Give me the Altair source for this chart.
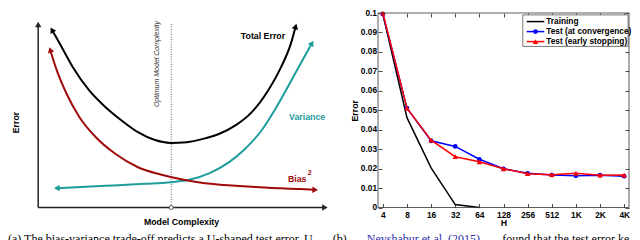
import altair as alt
import numpy as np
import pandas as pd

FONT = "Liberation Sans"

# ---------------- Left panel: conceptual bias-variance curves ----------------
# (model complexity, error) in arbitrary units
total_c = [0.48, 0.76, 1.21, 1.78, 2.35, 2.91, 3.48, 4.05, 4.62, 5.18, 5.75, 6.32, 6.88, 7.45, 8.02, 8.47, 8.81, 8.98]
total_e = [9.76, 8.99, 7.71, 6.43, 5.51, 4.78, 4.14, 3.72, 3.55, 3.59, 3.77, 4.05, 4.51, 5.24, 6.43, 7.71, 8.99, 9.95]
bias_c = [0.42, 0.65, 0.99, 1.44, 2.01, 2.69, 3.48, 4.27, 5.07, 5.75, 6.88, 8.02, 9.15, 9.66]
bias_e = [8.66, 7.53, 6.25, 4.96, 3.86, 2.95, 2.21, 1.81, 1.52, 1.34, 1.19, 1.08, 1.01, 0.97]
var_c = [0.65, 2.35, 3.71, 4.62, 5.30, 5.98, 6.66, 7.22, 7.79, 8.24, 8.70, 9.15, 9.55]
var_e = [1.06, 1.19, 1.30, 1.39, 1.54, 1.89, 2.49, 3.23, 4.23, 5.33, 6.61, 7.90, 9.03]
axis_x_end = 10.0
axis_y_end = 10.05
optimum_c = 4.64
optimum_top = 10.1

caption_a = "(a) The bias-variance trade-off predicts a U-shaped test error. Under"
caption_b1 = "(b)"
caption_b2 = "Neyshabur et al. (2015)"
caption_b3 = "found that the test error keeps"

# ---------------- Right panel: error vs hidden units ----------------
H_labels = ["4", "8", "16", "32", "64", "128", "256", "512", "1K", "2K", "4K"]
training = [0.0995, 0.0462, 0.0204, 0.0015, 0.0]
test_conv = [0.0995, 0.0511, 0.0343, 0.0314, 0.0248, 0.0199, 0.0176, 0.0167, 0.0163, 0.0166, 0.0161]
test_early = [0.1, 0.0511, 0.0346, 0.0261, 0.0235, 0.0199, 0.0174, 0.0169, 0.0176, 0.0166, 0.0167]
series = ["Training", "Test (at convergence)", "Test (early stopping)"]
y_ticks = [round(0.01 * i, 2) for i in range(11)]

BLACK, BLUE, RED = "#000000", "#0000ff", "#ff0000"
DRED, TEAL = "#9e0b0b", "#1f9c9c"
CITE = "#2b2bb0"

# ---------------- layout ----------------
W1, H1 = 370, 227.5        # left panel view (caption strip at its bottom, clipped)
W2, H2 = 251, 227.5        # right panel view
PLOT2 = 194.5              # height of the right plot frame inside its view
CAP_Y = 230.1              # caption baseline (clipped at the view bottom)

XMIN, XMAX = -1.053, 11.852
YMIN, YMAX = -1.813, 10.687
PXC = W1 / (XMAX - XMIN)
PXE = H1 / (YMAX - YMIN)

xs = alt.Scale(domain=[XMIN, XMAX], nice=False, zero=False)
ys = alt.Scale(domain=[YMIN, YMAX], nice=False, zero=False)


def heading(c0, e0, c1, e1):
    dx = (c0 - c1) * PXC
    dy = -(e0 - e1) * PXE
    return float(np.degrees(np.arctan2(dx, -dy)) % 360)


def XY():
    return dict(x=alt.X("c:Q", scale=xs, axis=None), y=alt.Y("e:Q", scale=ys, axis=None))


def curve(cs, es, color):
    df = pd.DataFrame({"c": cs, "e": es})
    return alt.Chart(df).mark_line(interpolate="monotone", strokeWidth=2, color=color).encode(**XY())


heads = []
for cs, es, col in [(total_c, total_e, BLACK), (bias_c, bias_e, DRED), (var_c, var_e, TEAL)]:
    heads.append(dict(c=cs[0], e=es[0], a=heading(cs[0], es[0], cs[1], es[1]), col=col, s=42))
    heads.append(dict(c=cs[-1], e=es[-1], a=heading(cs[-1], es[-1], cs[-2], es[-2]), col=col, s=42))
heads.append(dict(c=0, e=axis_y_end, a=0.0, col="#222222", s=40))
heads.append(dict(c=axis_x_end, e=0, a=90.0, col="#222222", s=40))
heads_df = pd.DataFrame(heads)

axes_df = pd.DataFrame({"c": [0, 0, 0, axis_x_end], "e": [axis_y_end, 0, 0, 0], "seg": ["y", "y", "x", "x"]})
axes_lines = alt.Chart(axes_df).mark_line(color="#222222", strokeWidth=1.5).encode(detail="seg:N", **XY())

opt_df = pd.DataFrame({"c": [optimum_c, optimum_c], "e": [0, optimum_top]})
opt_line = alt.Chart(opt_df).mark_line(color="#555555", strokeWidth=0.9, strokeDash=[1, 1.5]).encode(**XY())
opt_dot = alt.Chart(pd.DataFrame({"c": [optimum_c], "e": [0]})).mark_point(
    shape="circle", filled=True, fill="white", stroke="#333333", strokeWidth=0.8, size=16, opacity=1
).encode(**XY())

head_marks = alt.Chart(heads_df).mark_point(shape="triangle-up", filled=True, opacity=1).encode(
    angle=alt.Angle("a:Q", scale=None),
    color=alt.Color("col:N", scale=None),
    size=alt.Size("s:Q", scale=None),
    **XY(),
)


def label(text, c, e, color="#000000", size=8.8, weight="bold", angle=0, align="center", style="normal"):
    df = pd.DataFrame({"c": [c], "e": [e], "t": [text]})
    kw = dict(font=FONT, fontSize=size, fontWeight=weight, color=color, align=align,
              baseline="middle", fontStyle=style)
    if angle:
        kw["angle"] = angle
    return alt.Chart(df).mark_text(**kw).encode(text="t:N", **XY())


def cap(text, x, color="#000000", limit=0):
    kw = dict(font="Liberation Serif", fontSize=12, align="left", baseline="alphabetic", color=color, clip=True)
    if limit:
        kw["limit"] = limit
        kw["ellipsis"] = ""
    return alt.Chart(pd.DataFrame({"t": [text]})).mark_text(**kw).encode(
        text="t:N", x=alt.value(x), y=alt.value(CAP_Y))


left = alt.layer(
    axes_lines,
    opt_line,
    opt_dot,
    curve(var_c, var_e, TEAL),
    curve(bias_c, bias_e, DRED),
    curve(total_c, total_e, BLACK),
    head_marks,
    label("Total Error", 7.84, 9.40),
    label("Variance", 9.38, 5.0, color=TEAL),
    label("Bias", 8.71, 1.59, color=DRED, align="left"),
    label("2", 9.40, 1.90, color=DRED, size=7, align="left"),
    label("Model Complexity", 5.0, -0.77),
    label("Error", -0.78, 4.67, angle=270),
    label("Optimum Model Complexity", 4.15, 7.88, color="#333333", size=7, weight="normal",
          angle=270, style="italic"),
    cap(caption_a, 0, limit=318),
    cap(caption_b1, 324.7),
    cap(caption_b2, 358.8, CITE),
).properties(width=W1, height=H1, view=alt.ViewBackground(strokeOpacity=0))

# ---------------- Right panel construction ----------------
rows = []
for name, vals in zip(series, [training, test_conv, test_early]):
    for h, v in zip(H_labels, vals):
        rows.append({"H": h, "err": v, "series": name})
rdf = pd.DataFrame(rows)

xr = alt.Scale(type="point", domain=H_labels, padding=0.2)
yr = alt.Scale(domain=[0, 0.1], range=[PLOT2, 0], nice=False, zero=False)

axis_common = dict(grid=False, domain=False, tickSize=4, tickColor="#222222", tickWidth=0.8,
                   labelFont=FONT, labelFontWeight="bold", labelFontSize=8.3, labelColor="#000000",
                   titleFont=FONT, titleFontWeight="bold", titleFontSize=8.8, titleColor="#000000")

x_bottom = alt.Axis(orient="bottom", offset=-(H2 - PLOT2) - 4, labelAngle=0, labelPadding=2.8,
                    title="H", titlePadding=0, **axis_common)
y_left = alt.Axis(orient="left", offset=-4, values=y_ticks, format=".2~f", labelPadding=1.5,
                  title="Error", titlePadding=1, **axis_common)
x_top = alt.Axis(orient="top", offset=-4, labels=False, title=None, **axis_common)
y_right = alt.Axis(orient="right", offset=-4, values=y_ticks, labels=False, title=None, **axis_common)


def series_line(name, color, first=False):
    d = rdf[rdf["series"] == name]
    return alt.Chart(d).mark_line(color=color, strokeWidth=1.5).encode(
        x=alt.X("H:O", scale=xr, sort=H_labels, axis=x_bottom if first else None),
        y=alt.Y("err:Q", scale=yr, axis=y_left if first else None),
    )


def series_points(name, color, shape, size):
    d = rdf[rdf["series"] == name]
    return alt.Chart(d).mark_point(color=color, shape=shape, filled=True, size=size, opacity=1).encode(
        x=alt.X("H:O", scale=xr, sort=H_labels, axis=None),
        y=alt.Y("err:Q", scale=yr, axis=None),
    )


mirror = alt.Chart(rdf[rdf["series"] == series[1]]).mark_point(opacity=0).encode(
    x=alt.X("H:O", scale=xr, sort=H_labels, axis=x_top),
    y=alt.Y("err:Q", scale=yr, axis=y_right),
)

one = pd.DataFrame({"k": [0]})
frame = alt.Chart(one).mark_rect(filled=False, stroke="#333333", strokeWidth=0.8).encode(
    x=alt.value(0), x2=alt.value(W2), y=alt.value(0), y2=alt.value(PLOT2)
)
leg_box = alt.Chart(one).mark_rect(fill="white", stroke="#555555", strokeWidth=0.8).encode(
    x=alt.value(144.8), x2=alt.value(250.1), y=alt.value(1.9), y2=alt.value(33.4)
)
leg_layers = [leg_box]
leg_colors = [BLACK, BLUE, RED]
leg_shapes = [None, "circle", "triangle-up"]
leg_sizes = [0, 22, 30]
for i, name in enumerate(series):
    yy = 8.6 + 10.0 * i
    d = pd.DataFrame({"t": [name]})
    leg_layers.append(alt.Chart(d).mark_rule(color=leg_colors[i], strokeWidth=1.5).encode(
        x=alt.value(148.7), x2=alt.value(166.3), y=alt.value(yy)))
    if leg_shapes[i]:
        leg_layers.append(alt.Chart(d).mark_point(color=leg_colors[i], shape=leg_shapes[i], filled=True,
                                                  size=leg_sizes[i], opacity=1).encode(
            x=alt.value(157.5), y=alt.value(yy)))
    leg_layers.append(alt.Chart(d).mark_text(font=FONT, fontWeight="bold", fontSize=8.3, align="left",
                                             baseline="middle", color="#000").encode(
        text="t:N", x=alt.value(168.2), y=alt.value(yy + 0.5)))

right = alt.layer(
    series_line(series[0], BLACK, first=True),
    series_line(series[1], BLUE),
    series_points(series[1], BLUE, "circle", 22),
    series_line(series[2], RED),
    series_points(series[2], RED, "triangle-up", 30),
    mirror,
    frame,
    *leg_layers,
    cap(caption_b2, 358.8 - W1, CITE),
    cap(caption_b3, 494.3 - W1),
).resolve_axis(x="independent", y="independent").properties(
    width=W2, height=H2, view=alt.ViewBackground(strokeOpacity=0)
)

chart = alt.hconcat(left, right, spacing=0, bounds="flush").properties(padding=0).configure(font=FONT)

chart.save("out.html", embed_options={"renderer": "svg", "actions": False})
